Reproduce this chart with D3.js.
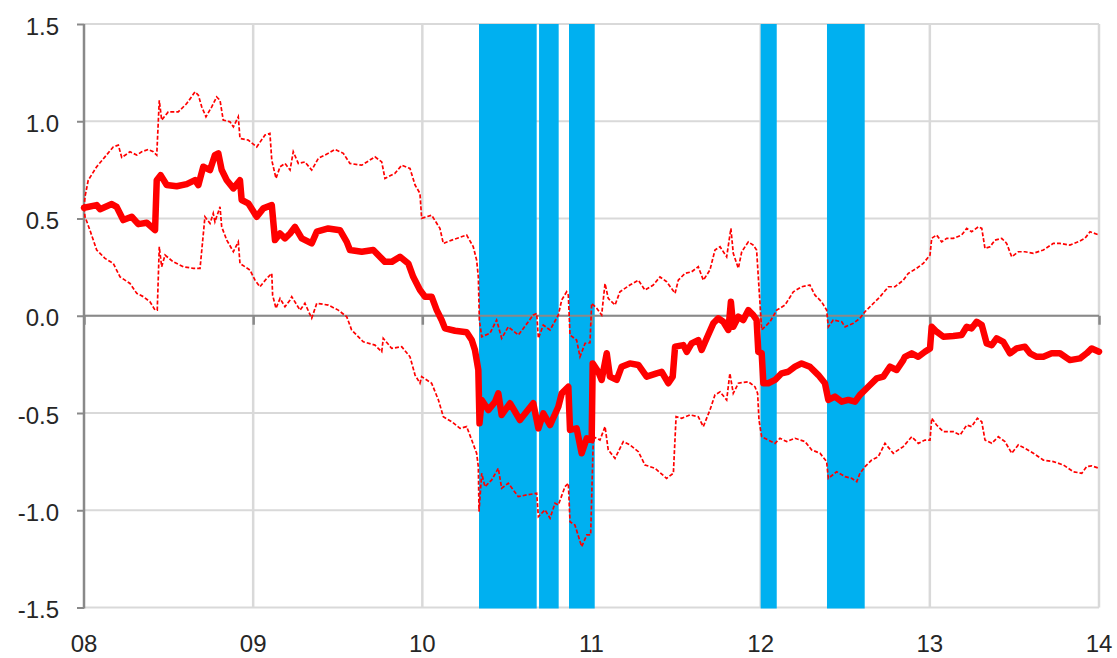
<!DOCTYPE html>
<html>
<head>
<meta charset="utf-8">
<script src="https://cdn.jsdelivr.net/npm/d3@7"></script>
<style>
  html, body { margin: 0; padding: 0; background: #fff; }
  svg { display: block; }
  .lbl { font-family: "Helvetica Neue", "Liberation Sans", Arial, sans-serif; font-size: 24px; fill: #262626; }
</style>
</head>
<body>
<svg id="chart" width="1117" height="658"></svg>
<script>
// tick labels
const yTicks = [-1.5, -1.0, -0.5, 0.0, 0.5, 1.0, 1.5];
const yLabels = ["-1.5", "-1.0", "-0.5", "0.0", "0.5", "1.0", "1.5"];
const xTicks = [2008, 2009, 2010, 2011, 2012, 2013, 2014];
const xLabels = ["08", "09", "10", "11", "12", "13", "14"];

// shaded periods (start, end) in years
const bands = [
  [2010.335, 2010.676], [2010.690, 2010.806], [2010.867, 2011.019],
  [2012.000, 2012.095], [2012.392, 2012.615]
];

// central estimate [year, value]
const central = [
  [2008.000,0.555],[2008.075,0.569],[2008.095,0.548],[2008.164,0.574],[2008.193,0.560],[2008.232,0.492],
  [2008.282,0.509],[2008.321,0.471],[2008.371,0.478],[2008.420,0.440],[2008.430,0.697],[2008.453,0.723],
  [2008.489,0.672],[2008.548,0.666],[2008.607,0.677],[2008.656,0.697],[2008.676,0.672],[2008.705,0.766],
  [2008.745,0.749],[2008.774,0.826],[2008.794,0.835],[2008.814,0.749],[2008.844,0.697],[2008.883,0.655],
  [2008.922,0.697],[2008.932,0.595],[2008.971,0.578],[2009.021,0.509],[2009.060,0.552],[2009.110,0.569],
  [2009.129,0.389],[2009.159,0.423],[2009.188,0.398],[2009.218,0.423],[2009.247,0.457],[2009.287,0.398],
  [2009.346,0.372],[2009.376,0.432],[2009.444,0.449],[2009.513,0.440],[2009.553,0.380],[2009.572,0.338],
  [2009.642,0.329],[2009.710,0.338],[2009.779,0.277],[2009.819,0.277],[2009.868,0.303],[2009.917,0.269],
  [2009.946,0.200],[2009.986,0.132],[2010.016,0.098],[2010.055,0.098],[2010.085,0.029],[2010.114,-0.022],
  [2010.134,-0.065],[2010.193,-0.077],[2010.262,-0.085],[2010.292,-0.125],[2010.311,-0.176],[2010.331,-0.279],
  [2010.338,-0.553],[2010.351,-0.433],[2010.390,-0.485],[2010.430,-0.442],[2010.449,-0.399],[2010.469,-0.510],
  [2010.518,-0.450],[2010.577,-0.536],[2010.656,-0.450],[2010.686,-0.579],[2010.715,-0.502],[2010.755,-0.562],
  [2010.804,-0.468],[2010.824,-0.399],[2010.863,-0.365],[2010.873,-0.587],[2010.912,-0.579],[2010.942,-0.707],
  [2010.972,-0.630],[2011.001,-0.639],[2011.007,-0.245],[2011.040,-0.288],[2011.060,-0.330],[2011.090,-0.193],
  [2011.109,-0.313],[2011.149,-0.330],[2011.178,-0.262],[2011.227,-0.245],[2011.277,-0.253],[2011.326,-0.313],
  [2011.385,-0.296],[2011.415,-0.288],[2011.454,-0.347],[2011.480,-0.313],[2011.494,-0.159],[2011.543,-0.151],
  [2011.563,-0.185],[2011.592,-0.142],[2011.631,-0.125],[2011.651,-0.176],[2011.681,-0.116],[2011.720,-0.039],
  [2011.749,-0.013],[2011.779,-0.031],[2011.809,-0.073],[2011.824,0.072],[2011.838,-0.057],[2011.868,-0.005],
  [2011.897,-0.022],[2011.927,0.029],[2011.956,0.004],[2011.976,-0.022],[2011.986,-0.185],[2012.006,-0.193],
  [2012.016,-0.347],[2012.045,-0.347],[2012.085,-0.330],[2012.124,-0.296],[2012.163,-0.288],[2012.203,-0.262],
  [2012.242,-0.245],[2012.291,-0.262],[2012.341,-0.305],[2012.380,-0.347],[2012.400,-0.433],[2012.439,-0.416],
  [2012.479,-0.442],[2012.518,-0.433],[2012.558,-0.442],[2012.587,-0.407],[2012.636,-0.365],[2012.686,-0.322],
  [2012.725,-0.313],[2012.764,-0.262],[2012.804,-0.279],[2012.843,-0.228],[2012.853,-0.211],[2012.893,-0.193],
  [2012.932,-0.211],[2012.971,-0.185],[2013.001,-0.168],[2013.011,-0.057],[2013.040,-0.082],[2013.080,-0.108],
  [2013.139,-0.104],[2013.188,-0.099],[2013.218,-0.057],[2013.247,-0.065],[2013.277,-0.031],[2013.307,-0.048],
  [2013.336,-0.142],[2013.366,-0.151],[2013.395,-0.116],[2013.434,-0.134],[2013.474,-0.193],[2013.513,-0.168],
  [2013.562,-0.159],[2013.592,-0.193],[2013.632,-0.211],[2013.671,-0.211],[2013.720,-0.193],[2013.769,-0.193],
  [2013.828,-0.228],[2013.888,-0.219],[2013.927,-0.193],[2013.957,-0.168],[2014.000,-0.185]
];

// upper bound [year, value]
const upper = [
  [2008.000,0.555],[2008.006,0.612],[2008.025,0.697],[2008.075,0.766],[2008.124,0.817],[2008.173,0.868],
  [2008.203,0.877],[2008.223,0.814],[2008.272,0.843],[2008.312,0.826],[2008.341,0.843],[2008.380,0.855],
  [2008.410,0.843],[2008.430,0.826],[2008.445,1.108],[2008.459,1.006],[2008.498,1.048],[2008.557,1.048],
  [2008.607,1.091],[2008.656,1.151],[2008.676,1.134],[2008.696,1.074],[2008.721,1.023],[2008.755,1.074],
  [2008.784,1.125],[2008.804,1.108],[2008.823,1.006],[2008.863,0.997],[2008.883,0.971],[2008.912,1.023],
  [2008.922,0.912],[2008.971,0.903],[2009.021,0.868],[2009.070,0.929],[2009.099,0.937],[2009.110,0.800],
  [2009.135,0.706],[2009.159,0.766],[2009.188,0.783],[2009.218,0.749],[2009.237,0.843],[2009.267,0.783],
  [2009.306,0.791],[2009.346,0.749],[2009.385,0.809],[2009.444,0.835],[2009.484,0.855],[2009.533,0.835],
  [2009.572,0.783],[2009.642,0.774],[2009.720,0.817],[2009.760,0.791],[2009.779,0.706],[2009.838,0.732],
  [2009.878,0.774],[2009.927,0.757],[2009.957,0.672],[2009.986,0.629],[2009.996,0.501],[2010.055,0.517],
  [2010.104,0.449],[2010.124,0.372],[2010.174,0.389],[2010.262,0.415],[2010.301,0.355],[2010.321,0.286],
  [2010.331,0.200],[2010.337,-0.022],[2010.351,-0.108],[2010.400,-0.090],[2010.439,-0.022],[2010.469,-0.116],
  [2010.508,-0.057],[2010.567,-0.099],[2010.597,-0.065],[2010.656,0.004],[2010.676,0.012],[2010.686,-0.116],
  [2010.715,-0.048],[2010.755,-0.073],[2010.804,0.004],[2010.824,0.081],[2010.853,0.123],[2010.863,0.106],
  [2010.873,-0.099],[2010.912,-0.125],[2010.932,-0.211],[2010.962,-0.142],[2010.991,-0.139],[2011.001,0.064],
  [2011.031,0.038],[2011.060,0.004],[2011.080,0.166],[2011.099,0.089],[2011.139,0.055],[2011.168,0.123],
  [2011.227,0.158],[2011.277,0.183],[2011.316,0.132],[2011.365,0.158],[2011.405,0.200],[2011.444,0.175],
  [2011.494,0.115],[2011.513,0.183],[2011.553,0.218],[2011.592,0.226],[2011.631,0.252],[2011.661,0.183],
  [2011.700,0.235],[2011.730,0.338],[2011.760,0.355],[2011.799,0.303],[2011.824,0.449],[2011.838,0.321],
  [2011.868,0.244],[2011.888,0.329],[2011.927,0.380],[2011.956,0.363],[2011.976,0.338],[2011.986,0.200],
  [2012.006,-0.073],[2012.055,-0.031],[2012.095,0.029],[2012.144,0.055],[2012.193,0.123],[2012.242,0.149],
  [2012.291,0.158],[2012.321,0.106],[2012.360,0.072],[2012.390,0.029],[2012.400,-0.057],[2012.429,-0.022],
  [2012.479,-0.031],[2012.499,-0.057],[2012.548,-0.039],[2012.587,-0.013],[2012.617,0.021],[2012.656,0.055],
  [2012.706,0.098],[2012.755,0.149],[2012.794,0.149],[2012.843,0.183],[2012.873,0.218],[2012.922,0.244],
  [2012.961,0.269],[2013.001,0.312],[2013.011,0.398],[2013.040,0.415],[2013.070,0.380],[2013.100,0.398],
  [2013.139,0.398],[2013.188,0.415],[2013.218,0.449],[2013.247,0.432],[2013.287,0.457],[2013.307,0.449],
  [2013.326,0.346],[2013.356,0.355],[2013.385,0.389],[2013.425,0.398],[2013.454,0.372],[2013.484,0.303],
  [2013.523,0.329],[2013.562,0.329],[2013.612,0.321],[2013.671,0.338],[2013.730,0.372],[2013.769,0.372],
  [2013.828,0.363],[2013.877,0.380],[2013.917,0.398],[2013.947,0.432],[2014.000,0.415]
];

// lower bound [year, value]
const lower = [
  [2008.000,0.555],[2008.006,0.509],[2008.035,0.440],[2008.075,0.338],[2008.124,0.295],[2008.173,0.269],
  [2008.213,0.200],[2008.272,0.166],[2008.312,0.115],[2008.351,0.098],[2008.390,0.072],[2008.420,0.029],
  [2008.433,0.029],[2008.445,0.355],[2008.459,0.252],[2008.479,0.312],[2008.528,0.277],[2008.587,0.252],
  [2008.646,0.244],[2008.686,0.244],[2008.715,0.509],[2008.745,0.475],[2008.764,0.526],[2008.774,0.483],
  [2008.804,0.560],[2008.814,0.457],[2008.844,0.389],[2008.883,0.329],[2008.912,0.380],[2008.922,0.269],
  [2008.981,0.235],[2009.011,0.183],[2009.040,0.149],[2009.080,0.192],[2009.110,0.218],[2009.115,0.106],
  [2009.135,0.038],[2009.159,0.089],[2009.188,0.046],[2009.218,0.081],[2009.228,0.098],[2009.277,0.029],
  [2009.306,0.064],[2009.346,-0.013],[2009.376,0.064],[2009.444,0.055],[2009.503,0.029],[2009.553,-0.005],
  [2009.582,-0.073],[2009.651,-0.134],[2009.720,-0.151],[2009.760,-0.185],[2009.769,-0.116],[2009.819,-0.168],
  [2009.878,-0.159],[2009.927,-0.211],[2009.957,-0.305],[2009.986,-0.347],[2009.996,-0.313],[2010.055,-0.347],
  [2010.095,-0.433],[2010.124,-0.519],[2010.174,-0.545],[2010.223,-0.579],[2010.262,-0.570],[2010.292,-0.639],
  [2010.321,-0.707],[2010.331,-0.776],[2010.335,-1.007],[2010.351,-0.810],[2010.370,-0.879],[2010.410,-0.844],
  [2010.449,-0.784],[2010.469,-0.887],[2010.508,-0.861],[2010.567,-0.930],[2010.617,-0.921],[2010.676,-0.913],
  [2010.686,-1.033],[2010.725,-0.998],[2010.755,-1.041],[2010.784,-0.964],[2010.804,-0.973],[2010.843,-0.879],
  [2010.863,-0.861],[2010.873,-1.059],[2010.902,-1.076],[2010.942,-1.187],[2010.972,-1.127],[2010.995,-1.127],
  [2011.011,-0.622],[2011.050,-0.639],[2011.080,-0.570],[2011.099,-0.690],[2011.139,-0.733],[2011.188,-0.647],
  [2011.227,-0.664],[2011.277,-0.699],[2011.316,-0.767],[2011.375,-0.784],[2011.444,-0.836],[2011.484,-0.810],
  [2011.500,-0.519],[2011.533,-0.527],[2011.583,-0.510],[2011.631,-0.519],[2011.661,-0.570],[2011.700,-0.485],
  [2011.730,-0.407],[2011.760,-0.391],[2011.799,-0.433],[2011.818,-0.296],[2011.838,-0.399],[2011.868,-0.347],
  [2011.927,-0.339],[2011.966,-0.365],[2011.982,-0.399],[2011.990,-0.536],[2012.006,-0.622],[2012.045,-0.639],
  [2012.085,-0.656],[2012.114,-0.630],[2012.154,-0.647],[2012.203,-0.630],[2012.262,-0.647],[2012.302,-0.690],
  [2012.351,-0.707],[2012.390,-0.750],[2012.400,-0.836],[2012.449,-0.802],[2012.499,-0.827],[2012.538,-0.836],
  [2012.568,-0.853],[2012.587,-0.810],[2012.617,-0.776],[2012.656,-0.742],[2012.695,-0.725],[2012.735,-0.656],
  [2012.784,-0.707],[2012.843,-0.673],[2012.893,-0.622],[2012.932,-0.656],[2012.971,-0.639],[2013.001,-0.639],
  [2013.011,-0.527],[2013.040,-0.562],[2013.080,-0.596],[2013.139,-0.596],[2013.179,-0.613],[2013.218,-0.562],
  [2013.247,-0.570],[2013.281,-0.527],[2013.307,-0.545],[2013.326,-0.639],[2013.366,-0.656],[2013.405,-0.622],
  [2013.444,-0.647],[2013.484,-0.707],[2013.523,-0.664],[2013.562,-0.681],[2013.612,-0.707],[2013.671,-0.742],
  [2013.730,-0.750],[2013.789,-0.767],[2013.848,-0.802],[2013.898,-0.810],[2013.927,-0.776],[2013.957,-0.772],
  [2014.000,-0.784]
];

const svg = d3.select("#chart");
const plotLeft = 84, plotRight = 1099, plotTop = 24, plotBottom = 607.5;

const x = d3.scaleLinear().domain([2008, 2014]).range([plotLeft, plotRight]);
const y = d3.scaleLinear().domain([-1.5, 1.5]).range([plotBottom, plotTop]);

// gridlines
svg.append("g").selectAll("line").data(yTicks).enter().append("line")
  .attr("x1", plotLeft).attr("x2", plotRight)
  .attr("y1", d => y(d)).attr("y2", d => y(d))
  .attr("stroke", "#d9d9d9").attr("stroke-width", 2);
svg.append("g").selectAll("line").data(xTicks.slice(1)).enter().append("line")
  .attr("x1", d => x(d)).attr("x2", d => x(d))
  .attr("y1", plotTop).attr("y2", plotBottom)
  .attr("stroke", "#d9d9d9").attr("stroke-width", 2.5);

// shaded periods
svg.append("g").selectAll("rect").data(bands).enter().append("rect")
  .attr("x", d => x(d[0]))
  .attr("width", d => x(d[1]) - x(d[0]))
  .attr("y", plotTop).attr("height", plotBottom - plotTop + 1)
  .attr("fill", "#00b0f0");

// left axis
const yAxis = svg.append("g")
  .attr("transform", "translate(" + plotLeft + ",0)")
  .call(d3.axisLeft(y).tickValues(yTicks).tickSize(7).tickFormat((d, i) => yLabels[i]));
yAxis.attr("font-family", null).attr("font-size", null);
yAxis.select(".domain").attr("stroke", "#898989").attr("stroke-width", 2.5)
  .attr("d", "M0," + plotTop + "V" + (plotBottom + 1));
yAxis.selectAll(".tick line").attr("stroke", "#898989").attr("stroke-width", 2);
yAxis.selectAll(".tick text").attr("class", "lbl").attr("x", -25).attr("dy", "0.42em").attr("fill", null);

// x axis on the zero line
const xAxis = svg.append("g")
  .attr("transform", "translate(0," + y(0) + ")")
  .call(d3.axisBottom(x).tickValues(xTicks).tickSize(9).tickFormat(""));
xAxis.select(".domain").attr("stroke", "#898989").attr("stroke-width", 2)
  .attr("d", "M" + plotLeft + ",0H" + plotRight);
xAxis.selectAll(".tick line").attr("stroke", "#898989").attr("stroke-width", 2.5);

// x labels at bottom
svg.append("g").selectAll("text").data(xTicks).enter().append("text")
  .attr("class", "lbl")
  .attr("x", d => x(d)).attr("y", 652)
  .attr("text-anchor", "middle")
  .text((d, i) => xLabels[i]);

const line = d3.line().x(d => x(d[0])).y(d => y(d[1]));

svg.append("path").datum(upper)
  .attr("d", line).attr("fill", "none")
  .attr("stroke", "#ff0000").attr("stroke-width", 1.7).attr("stroke-dasharray", "4,2");
svg.append("path").datum(lower)
  .attr("d", line).attr("fill", "none")
  .attr("stroke", "#ff0000").attr("stroke-width", 1.7).attr("stroke-dasharray", "4,2");
svg.append("path").datum(central)
  .attr("d", line).attr("fill", "none")
  .attr("stroke", "#ff0000").attr("stroke-width", 6.5)
  .attr("stroke-linejoin", "round").attr("stroke-linecap", "round");
</script>
</body>
</html>
